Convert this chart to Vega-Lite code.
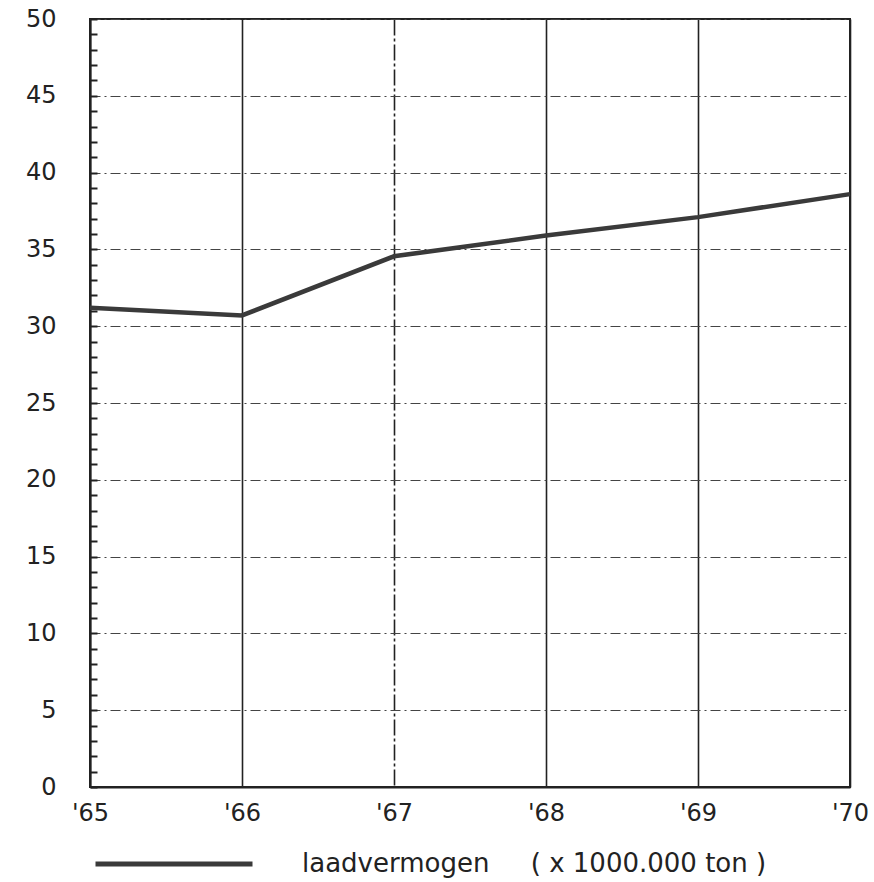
{
  "$schema": "https://vega.github.io/schema/vega-lite/v6.json",
  "autosize": "none",
  "width": 760,
  "height": 768,
  "padding": {"left": 90, "top": 19, "right": 24, "bottom": 95},
  "background": "white",
  "config": {
    "view": {"stroke": "#222", "strokeWidth": 2},
    "font": "DejaVu Sans"
  },
  "data": {
    "values": [
      {"jaar": "'65", "waarde": 31.2, "reeks": "laadvermogen\u00a0\u00a0\u00a0\u00a0\u00a0( x 1000.000 ton )"},
      {"jaar": "'66", "waarde": 30.7, "reeks": "laadvermogen\u00a0\u00a0\u00a0\u00a0\u00a0( x 1000.000 ton )"},
      {"jaar": "'67", "waarde": 34.55, "reeks": "laadvermogen\u00a0\u00a0\u00a0\u00a0\u00a0( x 1000.000 ton )"},
      {"jaar": "'68", "waarde": 35.9, "reeks": "laadvermogen\u00a0\u00a0\u00a0\u00a0\u00a0( x 1000.000 ton )"},
      {"jaar": "'69", "waarde": 37.1, "reeks": "laadvermogen\u00a0\u00a0\u00a0\u00a0\u00a0( x 1000.000 ton )"},
      {"jaar": "'70", "waarde": 38.6, "reeks": "laadvermogen\u00a0\u00a0\u00a0\u00a0\u00a0( x 1000.000 ton )"}
    ]
  },
  "mark": {"type": "line", "strokeWidth": 4.5},
  "encoding": {
    "x": {
      "field": "jaar",
      "type": "ordinal",
      "sort": null,
      "scale": {"type": "point", "padding": 0},
      "axis": {
        "title": null,
        "labelAngle": 0,
        "labelFontSize": 24,
        "labelColor": "#222",
        "labelPadding": 14,
        "tickSize": 0,
        "domainColor": "#222",
        "domainWidth": 2,
        "grid": true,
        "gridColor": "#222",
        "gridWidth": 1.6,
        "gridDash": {"condition": {"test": "datum.value === \"'67\"", "value": [16, 3, 3, 3]}, "value": []}
      }
    },
    "y": {
      "field": "waarde",
      "type": "quantitative",
      "scale": {"domain": [0, 50], "nice": false, "zero": true},
      "axis": {
        "title": null,
        "values": [0,1,2,3,4,5,6,7,8,9,10,11,12,13,14,15,16,17,18,19,20,21,22,23,24,25,26,27,28,29,30,31,32,33,34,35,36,37,38,39,40,41,42,43,44,45,46,47,48,49,50],
        "labelExpr": "datum.value % 5 === 0 ? datum.label : ''",
        "labelFontSize": 24,
        "labelColor": "#222",
        "labelPadding": 41,
        "tickSize": -7,
        "tickWidth": 2,
        "tickColor": "#222",
        "domainColor": "#222",
        "domainWidth": 2,
        "grid": true,
        "gridColor": "#444",
        "gridWidth": 1,
        "gridDash": [10, 4, 2, 4],
        "gridOpacity": {"condition": {"test": "datum.value % 5 === 0", "value": 1}, "value": 0}
      }
    },
    "color": {
      "field": "reeks",
      "type": "nominal",
      "scale": {"range": ["#3a3a3a"]},
      "legend": {
        "title": null,
        "orient": "none",
        "legendX": 3,
        "legendY": 764,
        "symbolType": "stroke",
        "symbolSize": 24649,
        "symbolStrokeWidth": 5,
        "labelFontSize": 26,
        "labelColor": "#222",
        "labelOffset": 47,
        "labelLimit": 800
      }
    }
  }
}
